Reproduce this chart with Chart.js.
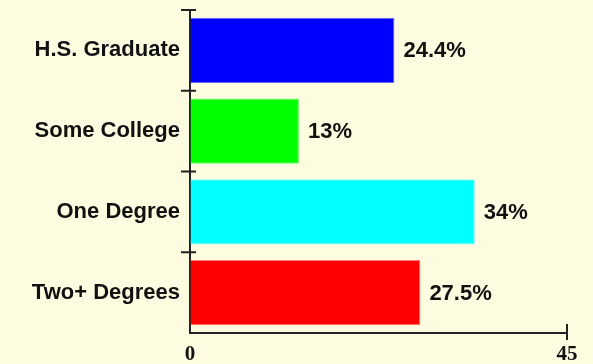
<!DOCTYPE html>
<html>
<head>
<meta charset="utf-8">
<script src="https://cdn.jsdelivr.net/npm/chart.js@4/dist/chart.umd.min.js"></script>
<style>
  html, body { margin: 0; padding: 0; background: #fefce0; }
  #wrap { width: 593px; height: 364px; }
</style>
</head>
<body>
<div id="wrap"><canvas id="eduChart"></canvas></div>
<script>
// Education levels and their share
const categories = ["H.S. Graduate", "Some College", "One Degree", "Two+ Degrees"];
const percents = [24.4, 13, 34, 27.5];
const valueTicks = [0, 45];

const barColors = ["#0000ff", "#00ff00", "#00ffff", "#ff0000"];
const barEdges = ["#6666ff", "#66ff66", "#88ffff", "#ff7777"];
const axisColor = "#222";
const sansFont = "'Liberation Sans', Arial, sans-serif";
const serifFont = "'Liberation Serif', 'Times New Roman', serif";

// Small tick marks that cross the axis lines
const crossTicks = {
  id: "crossTicks",
  afterDraw(chart) {
    const { ctx, scales: { x, y } } = chart;
    ctx.save();
    ctx.strokeStyle = axisColor;
    ctx.lineWidth = 2;
    for (let i = 0; i < categories.length; i++) {
      const edge = i === 0 ? y.top : (y.getPixelForValue(i - 1) + y.getPixelForValue(i)) / 2;
      ctx.beginPath();
      ctx.moveTo(x.left - 9, edge);
      ctx.lineTo(x.left + 6, edge);
      ctx.stroke();
    }
    const endX = x.getPixelForValue(valueTicks[valueTicks.length - 1]);
    ctx.beginPath();
    ctx.moveTo(endX, y.bottom - 9);
    ctx.lineTo(endX, y.bottom + 7);
    ctx.stroke();
    ctx.restore();
  }
};

// Percent label to the right of each bar
const barLabels = {
  id: "barLabels",
  afterDatasetsDraw(chart) {
    const { ctx } = chart;
    const meta = chart.getDatasetMeta(0);
    ctx.save();
    ctx.font = "bold 22px " + sansFont;
    ctx.fillStyle = "#111";
    ctx.textAlign = "left";
    ctx.textBaseline = "middle";
    meta.data.forEach((bar, i) => {
      ctx.fillText(percents[i] + "%", bar.x + 9, bar.y + 1);
    });
    ctx.restore();
  }
};

new Chart(document.getElementById("eduChart"), {
  type: "bar",
  data: {
    labels: categories,
    datasets: [{
      data: percents,
      backgroundColor: barColors,
      borderColor: barEdges,
      borderWidth: 1,
      borderSkipped: "left",
      barPercentage: 0.81,
      categoryPercentage: 1
    }]
  },
  options: {
    indexAxis: "y",
    responsive: true,
    maintainAspectRatio: false,
    animation: false,
    layout: { padding: { top: 10, right: 26, left: 0, bottom: 0 } },
    plugins: {
      legend: { display: false },
      tooltip: { enabled: false }
    },
    scales: {
      x: {
        min: valueTicks[0],
        max: valueTicks[valueTicks.length - 1],
        afterBuildTicks: scale => {
          scale.ticks = valueTicks.map(v => ({ value: v }));
        },
        afterFit: scale => { scale.height = 31; },
        grid: { display: true, drawOnChartArea: false, drawTicks: false },
        border: { display: true, color: axisColor, width: 2 },
        ticks: {
          padding: 9,
          color: "#111",
          font: { family: serifFont, size: 21, weight: "bold" },
          maxRotation: 0
        }
      },
      y: {
        offset: true,
        afterFit: scale => {
          scale.width = 190;
          scale.paddingTop = 0;
          scale.paddingBottom = 0;
        },
        grid: { display: true, drawOnChartArea: false, drawTicks: false },
        border: { display: true, color: axisColor, width: 2 },
        ticks: {
          padding: 10,
          color: "#111",
          font: { family: sansFont, size: 22, weight: "bold" }
        }
      }
    }
  },
  plugins: [crossTicks, barLabels]
});
</script>
</body>
</html>
